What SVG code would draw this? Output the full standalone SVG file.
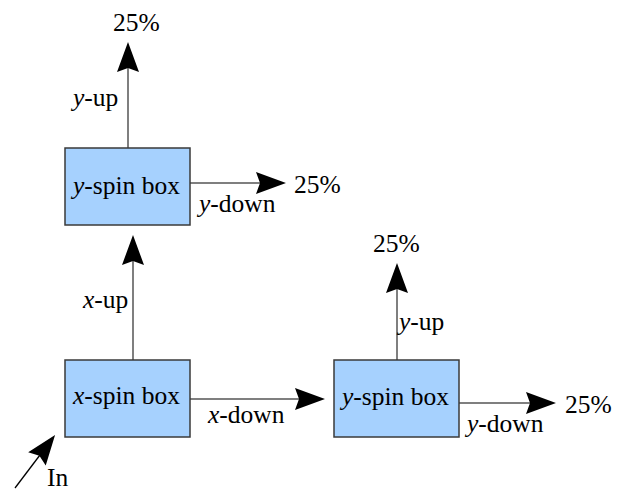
<svg xmlns="http://www.w3.org/2000/svg" width="623" height="491" viewBox="0 0 623 491">
<style>
.box{fill:#a6d1fe;stroke:#3a3a3a;stroke-width:1.5}
text{font-family:'Liberation Serif','Times New Roman',Tinos,'DejaVu Serif',serif;font-size:25.5px;fill:#000}
.i{font-style:italic}
.c{stroke:#555;stroke-width:1.5;fill:none;marker-end:url(#ah)}
.k{stroke:#000;stroke-width:1.3;fill:none;marker-end:url(#ah)}
</style>
<defs>
<marker id="ah" markerUnits="userSpaceOnUse" markerWidth="32" markerHeight="24" viewBox="0 -12 32 24" refX="10" refY="0" orient="auto" overflow="visible">
<path d="M0,-11 L30,0 L0,11 L4,0 Z" fill="#000"/>
</marker>
</defs>
<rect width="623" height="491" fill="#fff"/>
<g id="connectors">
<line class="c" x1="128" y1="148" x2="128" y2="62"/>
<line class="c" x1="190" y1="183" x2="266" y2="183"/>
<line class="c" x1="133" y1="360" x2="133" y2="255"/>
<line class="c" x1="190" y1="399" x2="305" y2="399"/>
<line class="c" x1="397" y1="360" x2="397" y2="283"/>
<line class="c" x1="459" y1="403" x2="536" y2="403"/>
<line class="k" x1="15" y1="488" x2="43" y2="451"/>
</g>
<g id="ybox1">
<rect class="box" x="65" y="148" width="125" height="77"/>
<text x="73" y="194" font-family="Liberation Serif, serif"><tspan class="i">y</tspan>-spin box</text>
</g>
<g id="xbox">
<rect class="box" x="65" y="360" width="125" height="77"/>
<text x="73" y="404"><tspan class="i">x</tspan>-spin box</text>
</g>
<g id="ybox2">
<rect class="box" x="334" y="360" width="125" height="77"/>
<text x="342" y="405"><tspan class="i">y</tspan>-spin box</text>
</g>
<g id="labels">
<text x="113" y="31">25%</text>
<text x="73" y="106"><tspan class="i">y</tspan>-up</text>
<text x="199" y="212"><tspan class="i">y</tspan>-down</text>
<text x="294" y="193">25%</text>
<text x="83" y="308"><tspan class="i">x</tspan>-up</text>
<text x="208" y="423"><tspan class="i">x</tspan>-down</text>
<text x="47" y="486">In</text>
<text x="373" y="252">25%</text>
<text x="399" y="330"><tspan class="i">y</tspan>-up</text>
<text x="565" y="413">25%</text>
<text x="467" y="432"><tspan class="i">y</tspan>-down</text>
</g>
</svg>
